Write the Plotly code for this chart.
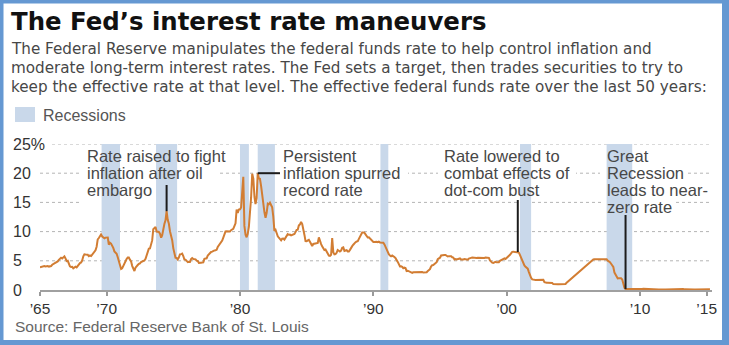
import pandas as pd
import plotly.graph_objects as go

# Effective federal funds rate, monthly averages (percent), Jan 1965 onward
rate_1965_1969 = [
    3.90, 3.98, 4.04, 4.09, 4.10, 4.04, 4.09, 4.12, 4.01, 4.08, 4.10, 4.32,
    4.42, 4.60, 4.65, 4.67, 4.90, 5.17, 5.30, 5.53, 5.40, 5.53, 5.76, 5.40,
    4.94, 5.00, 4.53, 4.05, 3.94, 3.98, 3.70, 3.90, 3.99, 3.88, 4.13, 4.51,
    4.61, 4.71, 5.05, 5.76, 6.11, 6.07, 6.02, 6.03, 5.78, 5.91, 5.82, 6.02,
    6.30, 6.61, 6.79, 7.41, 8.67, 8.90, 9.30, 9.50, 9.15, 9.00, 8.85, 8.97,
]
rate_1970s = [
    8.98, 8.98, 7.76, 8.10, 7.95, 7.61, 7.21, 6.61, 6.29, 6.20, 5.60, 4.90,
    4.14, 3.60, 3.71, 4.16, 4.63, 4.91, 5.31, 5.56, 5.55, 5.20, 4.91, 4.14,
    3.50, 3.25, 3.83, 4.17, 4.27, 4.46, 4.55, 4.80, 4.87, 5.04, 5.06, 5.33,
    5.94, 6.58, 7.09, 7.12, 7.84, 8.49, 10.40, 10.60, 10.78, 10.01, 10.03, 9.95,
    9.65, 8.97, 9.35, 10.51, 11.31, 11.93, 13.50, 12.01, 11.34, 10.06, 9.45, 8.53,
    7.13, 6.24, 5.54, 5.49, 5.22, 5.55, 6.10, 6.14, 6.24, 5.82, 5.22, 5.20,
    4.87, 4.77, 4.84, 4.82, 5.29, 5.48, 5.31, 5.29, 5.25, 5.02, 4.95, 4.65,
    4.61, 4.68, 4.69, 4.73, 5.35, 5.39, 5.42, 5.90, 6.14, 6.47, 6.51, 6.56,
    6.70, 6.78, 6.79, 6.89, 7.36, 7.60, 7.81, 8.04, 8.45, 8.96, 9.76, 10.03,
    10.07, 10.06, 10.09, 10.01, 10.24, 10.29, 10.47, 10.94, 11.43, 13.77, 13.18, 13.78,
]
rate_1980s = [
    13.82, 14.13, 17.19, 19.40, 10.98, 9.47, 9.03, 9.61, 10.87, 12.81, 15.85, 19.90,
    19.08, 15.93, 14.70, 15.72, 20.00, 19.10, 19.04, 17.82, 15.87, 15.08, 13.31, 12.37,
    13.22, 14.78, 14.68, 14.94, 14.45, 14.15, 12.59, 10.12, 10.31, 9.71, 9.20, 8.95,
    8.68, 8.51, 8.77, 8.80, 8.63, 8.98, 9.37, 9.56, 9.45, 9.48, 9.34, 9.47,
    9.56, 9.59, 9.91, 10.29, 10.32, 11.06, 11.23, 11.64, 11.30, 9.99, 9.43, 8.38,
    8.35, 8.50, 8.58, 8.27, 7.97, 7.53, 7.88, 7.90, 7.92, 7.99, 8.05, 9.00,
    8.14, 7.86, 7.48, 6.99, 6.85, 6.92, 6.56, 6.17, 5.89, 5.85, 6.04, 8.90,
    6.43, 6.10, 6.13, 6.37, 6.85, 6.73, 6.58, 6.73, 7.22, 7.29, 6.69, 6.77,
    6.83, 6.58, 6.58, 6.87, 7.09, 7.51, 7.75, 8.01, 8.19, 8.30, 8.35, 8.76,
    9.12, 9.36, 9.85, 9.84, 9.81, 9.53, 9.24, 8.99, 9.02, 8.84, 8.55, 8.45,
]
rate_1990s = [
    8.23, 8.24, 8.28, 8.26, 8.18, 8.29, 8.15, 8.13, 8.20, 8.11, 7.81, 7.31,
    6.91, 6.25, 6.12, 5.91, 5.78, 5.90, 5.82, 5.66, 5.45, 5.21, 4.81, 4.43,
    4.03, 4.06, 3.98, 3.73, 3.82, 3.76, 3.25, 3.30, 3.22, 3.10, 3.09, 2.92,
    3.02, 3.03, 3.07, 2.96, 3.00, 3.04, 3.06, 3.03, 3.09, 2.99, 3.02, 2.96,
    3.05, 3.25, 3.34, 3.56, 4.01, 4.25, 4.26, 4.47, 4.73, 4.76, 5.29, 5.45,
    5.53, 5.92, 5.98, 6.05, 6.01, 6.00, 5.85, 5.74, 5.80, 5.76, 5.80, 5.60,
    5.56, 5.22, 5.31, 5.22, 5.24, 5.27, 5.40, 5.22, 5.30, 5.24, 5.31, 5.29,
    5.25, 5.19, 5.39, 5.51, 5.50, 5.56, 5.52, 5.54, 5.54, 5.50, 5.52, 5.50,
    5.56, 5.51, 5.49, 5.45, 5.49, 5.56, 5.54, 5.55, 5.51, 5.07, 4.83, 4.68,
    4.63, 4.76, 4.81, 4.74, 4.74, 4.76, 4.99, 5.07, 5.22, 5.20, 5.42, 5.30,
]
rate_2000s = [
    5.45, 5.73, 5.85, 6.02, 6.27, 6.53, 6.54, 6.50, 6.52, 6.51, 6.51, 6.40,
    5.98, 5.49, 5.31, 4.80, 4.21, 3.97, 3.77, 3.65, 3.07, 2.49, 2.09, 1.82,
    1.73, 1.74, 1.73, 1.75, 1.75, 1.75, 1.73, 1.74, 1.75, 1.75, 1.34, 1.24,
    1.24, 1.26, 1.25, 1.26, 1.26, 1.22, 1.01, 1.03, 1.01, 1.01, 1.00, 0.98,
    1.00, 1.01, 1.00, 1.00, 1.00, 1.03, 1.26, 1.43, 1.61, 1.76, 1.93, 2.16,
    2.28, 2.50, 2.63, 2.79, 3.00, 3.04, 3.26, 3.50, 3.62, 3.78, 4.00, 4.16,
    4.29, 4.49, 4.59, 4.79, 4.94, 4.99, 5.24, 5.25, 5.25, 5.25, 5.25, 5.24,
    5.25, 5.26, 5.26, 5.25, 5.25, 5.25, 5.26, 5.02, 4.94, 4.76, 4.49, 4.24,
    3.94, 2.98, 2.61, 2.28, 1.98, 2.00, 2.01, 2.00, 1.81, 0.97, 0.39, 0.16,
    0.15, 0.22, 0.18, 0.15, 0.18, 0.21, 0.16, 0.16, 0.15, 0.12, 0.12, 0.12,
]
rate_2010s = [
    0.11, 0.13, 0.16, 0.20, 0.20, 0.18, 0.18, 0.19, 0.19, 0.19, 0.19, 0.18,
    0.17, 0.16, 0.14, 0.10, 0.09, 0.09, 0.07, 0.10, 0.08, 0.07, 0.08, 0.07,
    0.08, 0.10, 0.13, 0.14, 0.16, 0.16, 0.16, 0.13, 0.14, 0.16, 0.16, 0.16,
    0.14, 0.15, 0.14, 0.15, 0.11, 0.09, 0.09, 0.08, 0.08, 0.09, 0.08, 0.09,
    0.07, 0.07, 0.08, 0.09, 0.09, 0.10, 0.09, 0.09, 0.09, 0.09, 0.09, 0.12,
    0.11, 0.11, 0.11, 0.12,
]

# Recession periods (shaded)
recession_start = ["1969-08-15", "1973-09-15", "1980-01-01", "1981-05-01",
                   "1990-07-15", "2001-01-01", "2007-07-01"]
recession_end = ["1971-01-01", "1975-04-15", "1980-09-01", "1982-08-15",
                 "1991-02-15", "2001-11-01", "2009-06-01"]

y_ticks = [0, 5, 10, 15, 20, 25]
y_tick_text = ["0", "5", "10", "15", "20", "25%"]
x_ticks = ["1965-01-01", "1970-01-01", "1980-01-01", "1990-01-01",
           "2000-01-01", "2010-01-01", "2015-01-01"]
x_tick_text = ["\u201965", "\u201970", "\u201980", "\u201990",
               "\u201900", "\u201910", "\u201915"]

title_text = "The Fed\u2019s interest rate maneuvers"
intro_lines = [
    "The Federal Reserve manipulates the federal funds rate to help control inflation and",
    "moderate long-term interest rates. The Fed sets a target, then trades securities to try to",
    "keep the effective rate at that level. The effective federal funds rate over the last 50 years:",
]
legend_label = "Recessions"
source_text = "Source: Federal Reserve Bank of St. Louis"

# Callouts: text lines, the month they point at
callout_lines = [
    ["Rate raised to fight", "inflation after oil", "embargo"],
    ["Persistent", "inflation spurred", "record rate"],
    ["Rate lowered to", "combat effects of", "dot-com bust"],
    ["Great", "Recession", "leads to near-", "zero rate"],
]
callout_dates = ["1974-07-01", "1981-05-01", "2000-11-01", "2008-12-01"]

rate = rate_1965_1969 + rate_1970s + rate_1980s + rate_1990s + rate_2000s + rate_2010s
dates = pd.date_range("1965-01-01", periods=len(rate), freq="MS")
series = pd.Series(rate, index=dates)

# ---- page geometry (pixels) ----
W, H = 729, 345
ML, MR, MT, MB = 40, 17, 144, 55
PW, PH = W - ML - MR, H - MT - MB
Y_MAX = 25


def px_x(px):
    return (px - ML) / PW


def px_y(py):
    return (H - MB - py) / PH


def py_val(py):
    return (H - MB - py) / PH * Y_MAX


HEAD = "DejaVu Sans, Verdana, sans-serif"
SANS = "Liberation Sans, Arial, Helvetica, sans-serif"
BAND = "#c9d8ea"
LINE = "#d27d33"

fig = go.Figure()
fig.add_trace(go.Scatter(
    x=dates, y=rate, mode="lines",
    line=dict(color=LINE, width=2),
    hoverinfo="skip", showlegend=False,
))

shapes = []
# dotted horizontal gridlines
for v in y_ticks[1:]:
    shapes.append(dict(type="line", xref="paper", yref="y", x0=0, x1=1, y0=v, y1=v,
                       line=dict(color="#b4b4b4", width=1, dash="dot"), layer="below"))

# white backing behind labels that cross gridlines
label_boxes = [
    (10, 136, 51, 151),
    (80, 163, 218, 183), (82, 183, 160, 206),
    (279, 163, 408, 182),
    (438, 163, 576, 182),
    (600, 163, 688, 182), (602, 198, 675, 215),
]
for x0, y0, x1, y1 in label_boxes:
    shapes.append(dict(type="rect", xref="paper", yref="paper",
                       x0=px_x(x0), x1=px_x(x1), y0=px_y(y1), y1=px_y(y0),
                       fillcolor="white", line=dict(width=0), layer="below"))

# recession bands
for s, e in zip(recession_start, recession_end):
    shapes.append(dict(type="rect", xref="x", yref="y", x0=s, x1=e, y0=0, y1=Y_MAX,
                       fillcolor=BAND, line=dict(width=0), layer="below"))

# legend swatch
shapes.append(dict(type="rect", xref="paper", yref="paper",
                   x0=px_x(15), x1=px_x(35), y0=px_y(122), y1=px_y(107),
                   fillcolor=BAND, line=dict(width=0)))

# callout pointers
PTR = dict(color="#1c1c1c", width=2)
d0, d1, d2, d3 = callout_dates
shapes.append(dict(type="line", xref="x", yref="y", x0=d0, x1=d0,
                   y0=series[d0], y1=py_val(185), line=PTR))
shapes.append(dict(type="line", xref="x", yref="y", x0=d1, x1="1983-01-01",
                   y0=series[d1], y1=series[d1], line=PTR))
shapes.append(dict(type="line", xref="x", yref="y", x0=d2, x1=d2,
                   y0=series[d2], y1=py_val(200), line=PTR))
shapes.append(dict(type="line", xref="x", yref="y", x0=d3, x1=d3,
                   y0=series[d3], y1=py_val(215), line=PTR))

# blue frame around the graphic
FRAME = "#6598d2"
for x0, y0, x1, y1 in [(0, 0, W, 3.5), (0, 340, W, H), (0, 0, 3.5, H), (722, 0, W, H)]:
    shapes.append(dict(type="rect", xref="paper", yref="paper",
                       x0=px_x(x0), x1=px_x(x1), y0=px_y(y1), y1=px_y(y0),
                       fillcolor=FRAME, line=dict(width=0), layer="above"))

ann = []


def text(x, y_mid, s, size, color, family=SANS, bold=False):
    ann.append(dict(xref="paper", yref="paper", x=px_x(x), y=px_y(y_mid),
                    xanchor="left", yanchor="middle", showarrow=False, borderpad=0,
                    text=f"<b>{s}</b>" if bold else s,
                    font=dict(family=family, size=size, color=color)))


text(10, 21.6, title_text, 24.4, "#111111", HEAD, bold=True)
for i, line in enumerate(intro_lines):
    text(10, 49 + 19 * i, line, 15.2, "#474747", HEAD)
text(42, 115, legend_label, 16, "#555555")
for v, t in zip(y_ticks, y_tick_text):
    ann.append(dict(xref="paper", yref="y", x=px_x(12), y=v, xanchor="left",
                    yanchor="middle", showarrow=False, borderpad=0, text=t,
                    font=dict(family=SANS, size=16, color="#333333")))
callout_x = [86, 282, 443, 606]
for cx, lines in zip(callout_x, callout_lines):
    for i, line in enumerate(lines):
        text(cx, 156 + 17 * i, line, 16.5, "#474747")
text(14, 326, source_text, 15.5, "#666666")

fig.update_layout(
    width=W, height=H,
    margin=dict(l=ML, r=MR, t=MT, b=MB, pad=0),
    paper_bgcolor="white", plot_bgcolor="white",
    showlegend=False,
    shapes=shapes, annotations=ann,
    xaxis=dict(
        type="date", range=["1965-01-01", "2015-05-27"],
        tickvals=x_ticks, ticktext=x_tick_text,
        ticks="outside", ticklen=4, tickcolor="#9a9a9a", tickwidth=1.5,
        showline=True, linecolor="#a0a0a0", linewidth=1.5,
        showgrid=False, zeroline=False,
        tickfont=dict(family=SANS, size=15.5, color="#333333"),
    ),
    yaxis=dict(range=[0, Y_MAX], showgrid=False, zeroline=False,
               showticklabels=False, showline=False, ticks=""),
)

fig.write_html("out.html")
